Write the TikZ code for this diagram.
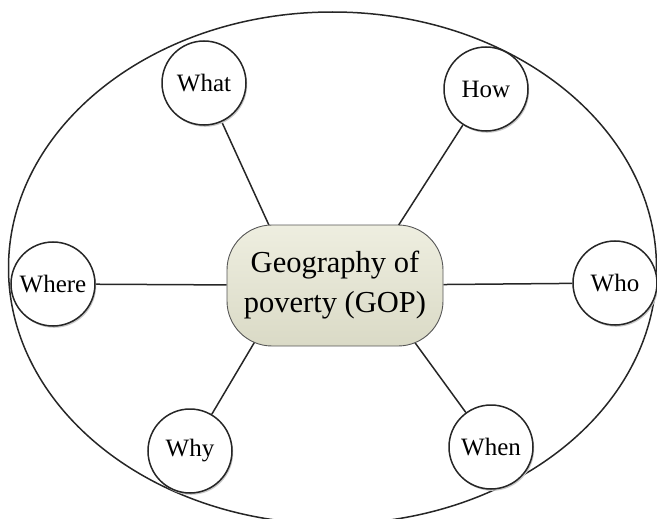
\documentclass[tikz,border=0pt]{standalone}
\usepackage{fontspec}
\setmainfont{Liberation Serif}
\usetikzlibrary{backgrounds,shadows}
\definecolor{linegray}{HTML}{262626}
\definecolor{hubedge}{HTML}{555555}
\definecolor{hubtop}{HTML}{EEEEE0}
\definecolor{hubbot}{HTML}{DADAC6}
\begin{document}
\begin{tikzpicture}[x=1pt,y=-1pt,
  soft/.style={drop shadow={shadow xshift=1.2pt,shadow yshift=-1.8pt,
    fill=black!22,opacity=1}},
  ring/.style={circle,draw=linegray,line width=1.5pt,fill=white,soft,
    minimum size=84pt,inner sep=0pt,font=\fontsize{25}{29}\selectfont},
  hub/.style={rectangle,rounded corners=45pt,draw=hubedge,line width=0.9pt,
    top color=hubtop,bottom color=hubbot,minimum width=216pt,
    minimum height=121pt,align=center,font=\fontsize{30.5}{40}\selectfont},
  spoke/.style={draw=linegray,line width=1.5pt}]
\useasboundingbox (0,0) rectangle (657,519);

% central topic and the six question circles
\node[hub] (gop) at (335,285.5) {Geography of\\poverty (GOP)};
\node[ring] (what)  at (204,83)  {What};
\node[ring] (how)   at (486,89)  {How};
\node[ring] (where) at (53,284)  {Where};
\node[ring] (who)   at (615,283) {Who};
\node[ring] (why)   at (190,451) {Why};
\node[ring] (when)  at (491,447) {When};

% spoke ends, tucked just inside the central box
\coordinate (eWhat) at (271.3,230.3);
\coordinate (eHow)  at (395.7,229.7);
\coordinate (eWhy)  at (261.1,331.1);
\coordinate (eWhen) at (408.3,333.5);

\begin{scope}[on background layer]
  \draw[spoke] (332.5,268) ellipse [x radius=324pt, y radius=256pt];
  \draw[spoke] (what) -- (eWhat);
  \draw[spoke] (how) -- (eHow);
  \draw[spoke] (why) -- (eWhy);
  \draw[spoke] (when) -- (eWhen);
  \draw[spoke] (where) -- (gop);
  \draw[spoke] (who) -- (gop);
\end{scope}
\end{tikzpicture}
\end{document}
